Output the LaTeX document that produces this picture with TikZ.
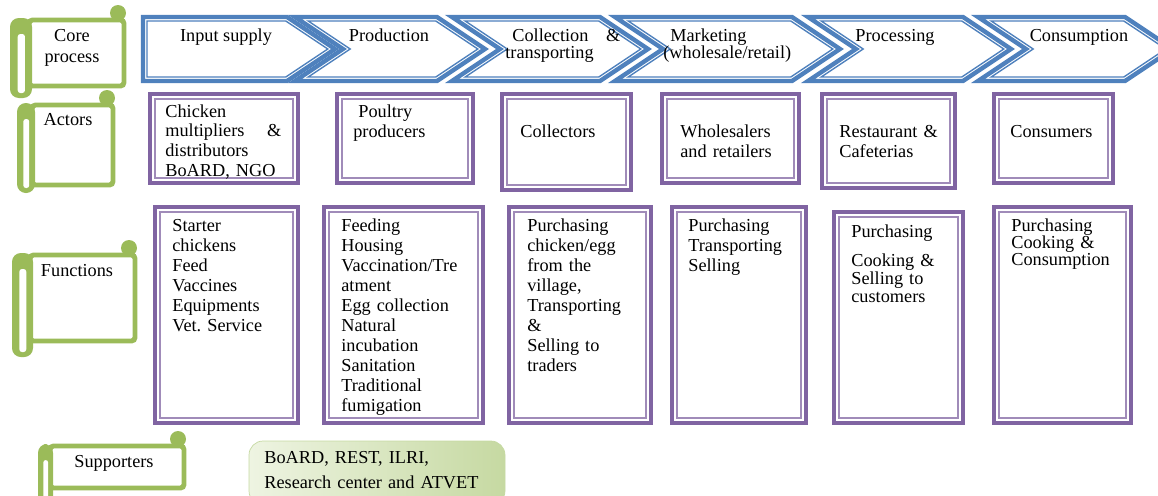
\documentclass[tikz,border=0pt]{standalone}
\usepackage{fontspec}
\setmainfont{Liberation Serif}
\frenchspacing
\definecolor{vcblue}{HTML}{4F81BD}
\definecolor{vcpurple}{HTML}{8064A2}
\definecolor{vcgreen}{HTML}{9BBB59}
\definecolor{suplight}{HTML}{EEF4E2}
\definecolor{supdark}{HTML}{C6D9A2}

% scroll: roll left, top, roll width, right, bottom, roll bottom
\newcommand{\scrollshape}[6]{%
  \fill[vcgreen] ({#4-6},{#2-7}) circle [radius=0.16cm];
  \draw[scrollline] ({#1+#3-3},#2) rectangle (#4,#5);
  \fill[vcgreen,rounded corners=5pt] (#1,{#2-2}) rectangle ({#1+#3},#6);
  \fill[white,rounded corners=1.5pt] ({#1+0.35*#3},{#2+14}) rectangle ({#1+0.68*#3},{#6-5});
}

\begin{document}
\begin{tikzpicture}[x=0.02cm, y=-0.02cm,
txt/.style={anchor=base west, align=left, text width=2.9cm, inner sep=0pt, font=\fontsize{10.4}{11.4}\selectfont},
ctxt/.style={anchor=base, align=center, inner sep=0pt, font=\fontsize{10.4}{11.4}\selectfont},
chevout/.style={draw=vcblue, line width=2.5pt, fill=white},
chevin/.style={draw=vcblue, line width=0.8pt},
frameout/.style={draw=vcpurple, line width=2.3pt, fill=white},
framein/.style={draw=vcpurple!75, line width=0.6pt},
scrollline/.style={draw=vcgreen, line width=2.8pt, fill=white, rounded corners=2pt}]

\useasboundingbox (0,0) rectangle (1158,495);
\clip (0,0) rectangle (1158,495);

% Core process chevrons
\draw[chevout] (143,17) -- (287,17) -- (335,49) -- (287,81) -- (143,81) -- cycle;
\draw[chevin] (147,21) -- (285.8,21) -- (327.8,49) -- (285.8,77) -- (147,77) -- cycle;
\foreach \L/\R in {295/437, 452/600, 615/792, 808/963, 978/1125} {
  \draw[chevout] (\L,17) -- (\R,17) -- ({\R+48},49) -- (\R,81) -- (\L,81) -- ({\L+48},49) -- cycle;
  \draw[chevin] ({\L+13.2},21) -- ({\R-1.2},21) -- ({\R+40.8},49) -- ({\R-1.2},77) -- ({\L+13.2},77) -- ({\L+55.2},49) -- cycle;
}
\node[ctxt] (input) at (226,41) {Input supply};
\node[ctxt] (production) at (389,41) {Production};
\node[txt, text width=2.3cm, font=\fontsize{10.4}{10.2}\selectfont] (collection) at (505,41) {\hspace*{0.14cm}Collection\hfill\&\\transporting};
\node[txt, font=\fontsize{10.4}{10.2}\selectfont] (marketing) at (663,41) {\hspace*{0.14cm}Marketing\\(wholesale/retail)};
\node[ctxt] (processing) at (895,41) {Processing};
\node[ctxt] (consumption) at (1079,41) {Consumption};

% Scrolls
\scrollshape{10}{20}{22}{124}{86}{98}
\scrollshape{17}{105}{18}{113}{185}{193}
\scrollshape{12}{255}{21}{135}{341}{357}
\scrollshape{38}{446}{15}{184}{488}{510}
\node[ctxt, font=\fontsize{10.4}{11.9}\selectfont] (coreLbl) at (72,62) {Core\\process};
\node[ctxt] (actorsLbl) at (68,125) {Actors};
\node[ctxt] (functionsLbl) at (77,276) {Functions};
\node[ctxt] (supportersLbl) at (114,467) {Supporters};

% Actors
\foreach \xa/\ya/\xb/\yb in {150/94/298/183, 337/94/473/183, 502/94/631/190,
  662/94/799/183, 822/94/955/188, 994/94/1113/183} {
  \draw[frameout] (\xa,\ya) rectangle (\xb,\yb);
  \draw[framein] ({\xa+5},{\ya+5}) rectangle ({\xb-5},{\yb-5});
}
\node[txt, text width=2.32cm, font=\fontsize{10.4}{11.2}\selectfont] (multipliers) at (165,117) {Chicken\\multipliers\hfill\&\\distributors\\BoARD, NGO};
\node[txt] (producers) at (353,117) {\hspace*{0.1cm}Poultry\\producers};
\node[txt] (collectors) at (520,137) {Collectors};
\node[txt] (traders) at (680,137) {Wholesalers\\and retailers};
\node[txt] (restaurants) at (839,137) {Restaurant \&\\Cafeterias};
\node[txt] (consumers) at (1010,137) {Consumers};

% Functions
\foreach \xa/\ya/\xb/\yb in {155/207/298/423, 324/207/483/423, 509/207/651/423,
  672/207/806/423, 834/212/963/423, 994/207/1131/423} {
  \draw[frameout] (\xa,\ya) rectangle (\xb,\yb);
  \draw[framein] ({\xa+5},{\ya+5}) rectangle ({\xb-5},{\yb-5});
}
\node[txt] (fInput) at (172,231) {Starter\\chickens\\Feed\\Vaccines\\Equipments\\Vet. Service};
\node[txt] (fProduction) at (341,231) {Feeding\\Housing\\Vaccination/Tre\\atment\\Egg collection\\Natural\\incubation\\Sanitation\\Traditional\\fumigation};
\node[txt] (fCollection) at (527,231) {Purchasing\\chicken/egg\\from the\\village,\\Transporting\\\&\\Selling to\\traders};
\node[txt] (fMarketing) at (688,231) {Purchasing\\Transporting\\Selling};
\node[txt, font=\fontsize{10.4}{10.2}\selectfont] (fProcessing) at (851,237) {Purchasing\\[0.24cm]Cooking \&\\Selling to\\customers};
\node[txt, font=\fontsize{10.4}{9.9}\selectfont] (fConsumption) at (1011,231) {Purchasing\\Cooking \&\\Consumption};

% Supporters
\shade[left color=suplight, right color=supdark, draw=supdark, rounded corners=8pt] (249,441) rectangle (505,505);
\node[txt, text width=5cm, font=\fontsize{10.4}{14.7}\selectfont] (supporters) at (264,463) {BoARD, REST, ILRI,\\Research center and ATVET};

\end{tikzpicture}
\end{document}
